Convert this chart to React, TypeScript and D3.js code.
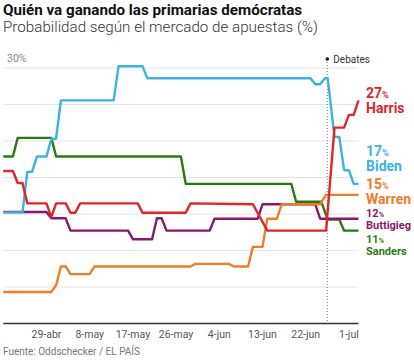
import React from "react";
import * as d3 from "d3";

// chart values (probability, %)
const harris: [string, number][] = [
  ["2019-04-20", 17.9], ["2019-04-22", 17.9], ["2019-04-23", 16.5], ["2019-04-24", 16.5],
  ["2019-04-25", 14.1], ["2019-04-29", 14.1], ["2019-04-30", 12.5], ["2019-05-01", 14.1],
  ["2019-05-03", 14.1], ["2019-05-04", 13.0], ["2019-05-05", 13.0], ["2019-05-06", 14.1],
  ["2019-05-18", 14.1], ["2019-05-19", 13.0], ["2019-05-28", 13.0], ["2019-05-29", 14.1],
  ["2019-06-11", 14.0], ["2019-06-14", 10.9], ["2019-06-26T06", 10.9], ["2019-06-28", 23.0],
  ["2019-06-30", 23.0], ["2019-07-01", 24.5], ["2019-07-02", 24.5], ["2019-07-03", 26.2],
];
const biden: [string, number][] = [
  ["2019-04-20", 13.05], ["2019-04-24", 13.05], ["2019-04-25", 17.8], ["2019-04-26", 17.8],
  ["2019-04-27", 19.6], ["2019-04-29", 19.6], ["2019-04-30", 21.7], ["2019-05-01", 21.7],
  ["2019-05-02", 26.2], ["2019-05-13", 26.2], ["2019-05-14", 30.2], ["2019-05-19", 30.2],
  ["2019-05-20", 28.8], ["2019-06-23", 28.8], ["2019-06-24", 28.1], ["2019-06-25", 28.1],
  ["2019-06-26", 28.8], ["2019-06-26T14", 28.8], ["2019-06-28", 21.9], ["2019-06-29", 21.9],
  ["2019-06-30", 18.0], ["2019-07-01", 18.0], ["2019-07-02", 16.4], ["2019-07-03", 16.4],
];
const warren: [string, number][] = [
  ["2019-04-20", 3.7], ["2019-04-30", 3.7], ["2019-05-01", 4.5], ["2019-05-02", 6.7],
  ["2019-05-03", 6.7], ["2019-05-04", 5.8], ["2019-05-08", 5.8], ["2019-05-09", 6.7],
  ["2019-05-29", 6.7], ["2019-05-30", 7.0], ["2019-06-06", 7.0], ["2019-06-07", 6.7],
  ["2019-06-10", 6.7], ["2019-06-11", 9.0], ["2019-06-13", 9.0], ["2019-06-14", 12.3],
  ["2019-06-16", 12.3], ["2019-06-17", 14.0], ["2019-06-25", 14.0], ["2019-06-26T06", 15.1],
  ["2019-07-03", 15.1],
];
const buttigieg: [string, number][] = [
  ["2019-04-20", 13.1], ["2019-04-29", 13.1], ["2019-04-30", 12.35], ["2019-05-03", 12.35],
  ["2019-05-04", 10.9], ["2019-05-16", 10.9], ["2019-05-17", 9.9], ["2019-05-21", 9.9],
  ["2019-05-22", 12.35], ["2019-05-23", 12.35], ["2019-05-24", 10.9], ["2019-06-02", 10.9],
  ["2019-06-03", 12.3], ["2019-06-12", 12.3], ["2019-06-13", 14.0], ["2019-06-24", 14.0],
  ["2019-06-25", 12.3], ["2019-07-03", 12.3],
];
const sanders: [string, number][] = [
  ["2019-04-20", 19.6], ["2019-04-22", 19.6], ["2019-04-23", 21.8], ["2019-04-30", 21.8],
  ["2019-05-01", 19.6], ["2019-05-27", 19.6], ["2019-05-28", 16.4], ["2019-06-19", 16.4],
  ["2019-06-20", 14.3], ["2019-06-25T06", 14.3], ["2019-06-26T14", 12.2], ["2019-06-29", 12.2],
  ["2019-06-30", 10.9], ["2019-07-03", 10.9],
];

const names = ["Harris", "Biden", "Warren", "Buttigieg", "Sanders"];
const lastValues = [27, 17, 15, 12, 11];
const colors = ["#e0252b", "#3eb1e5", "#ee7d2a", "#86196c", "#2a7a12"];
const series = [harris, biden, warren, buttigieg, sanders];

const tickDates = ["2019-04-29", "2019-05-08", "2019-05-17", "2019-05-26", "2019-06-04", "2019-06-13", "2019-06-22", "2019-07-01"];
const tickLabels = ["29-abr", "8-may", "17-may", "26-may", "4-jun", "13-jun", "22-jun", "1-jul"];
const debateDate = "2019-06-26T12";
const startDate = "2019-04-20";
const endDate = "2019-07-03";

const parseDay = d3.timeParse("%Y-%m-%d");
const parseHour = d3.timeParse("%Y-%m-%dT%H");
const parse = (s: string) => (parseHour(s) ?? parseDay(s)) as Date;

const font = "Roboto, 'Noto Sans', sans-serif";

export default function App() {
  const width = 414;
  const height = 362;
  const left = 3.3, right = 358.5;
  const top = 68, bottom = 323.5;

  const x = d3.scaleTime().domain([parse(startDate), parse(endDate)]).range([left, right]);
  const y = d3.scaleLinear().domain([0, 30]).range([bottom, top]);
  const grid = d3.range(1, 8).map((i) => (i * 30) / 7);

  const line = d3
    .line<[string, number]>()
    .x((d) => x(parse(d[0])))
    .y((d) => y(d[1]));

  // drawing order: back to front
  const order = [4, 3, 2, 1, 0];
  // label layout: number baseline, name baseline, font size
  const labelPos = [
    [98, 113, 14],
    [155.5, 170.5, 14],
    [189, 203.5, 14],
    [216.5, 229, 11],
    [243, 254.5, 11],
  ];
  const dx = x(parse(debateDate));

  return (
    <div style={{ position: "absolute", left: 0, top: 0 }}>
      <svg width={width} height={height} style={{ display: "block", background: "#fff" }} fontFamily={font}>
        <text x={3} y={15} fontSize={15.2} fontWeight={700} fill="#111">
          Quién va ganando las primarias demócratas
        </text>
        <text x={3} y={32} fontSize={15.2} fontWeight={300} fill="#333">
          Probabilidad según el mercado de apuestas (%)
        </text>

        {grid.map((g, i) => (
          <line key={i} x1={left} x2={right} y1={y(g)} y2={y(g)} stroke="#e4e4e4" strokeWidth={1} />
        ))}
        <text x={7} y={61.5} fontSize={10.5} fill="#888">30%</text>

        <line x1={dx} x2={dx} y1={59} y2={bottom} stroke="#777" strokeWidth={1} strokeDasharray="1,2" />
        <circle cx={dx} cy={59} r={1.8} fill="#111" />
        <text x={dx + 6} y={62.5} fontSize={10} fill="#333">Debates</text>

        {order.map((i) => (
          <path
            key={names[i]}
            d={line(series[i]) ?? ""}
            fill="none"
            stroke={colors[i]}
            strokeWidth={2.4}
            strokeLinejoin="round"
          />
        ))}

        <line x1={left} x2={right} y1={bottom} y2={bottom} stroke="#333" strokeWidth={1.3} />
        {tickDates.map((t, i) => (
          <text key={t} x={x(parse(t))} y={338} fontSize={10.5} fill="#555" textAnchor="middle">
            {tickLabels[i]}
          </text>
        ))}

        {names.map((n, i) => {
          const [ny, nameY, fs] = labelPos[i];
          return (
            <g key={n} fill={colors[i]} fontWeight={700}>
              <text x={366} y={ny} fontSize={fs}>
                {lastValues[i]}
                <tspan fontSize={fs * 0.65}>%</tspan>
              </text>
              <text x={366} y={nameY} fontSize={fs}>{n}</text>
            </g>
          );
        })}

        <text x={3} y={355} fontSize={10} fill="#777">Fuente: Oddschecker / EL PAÍS</text>
      </svg>
    </div>
  );
}
